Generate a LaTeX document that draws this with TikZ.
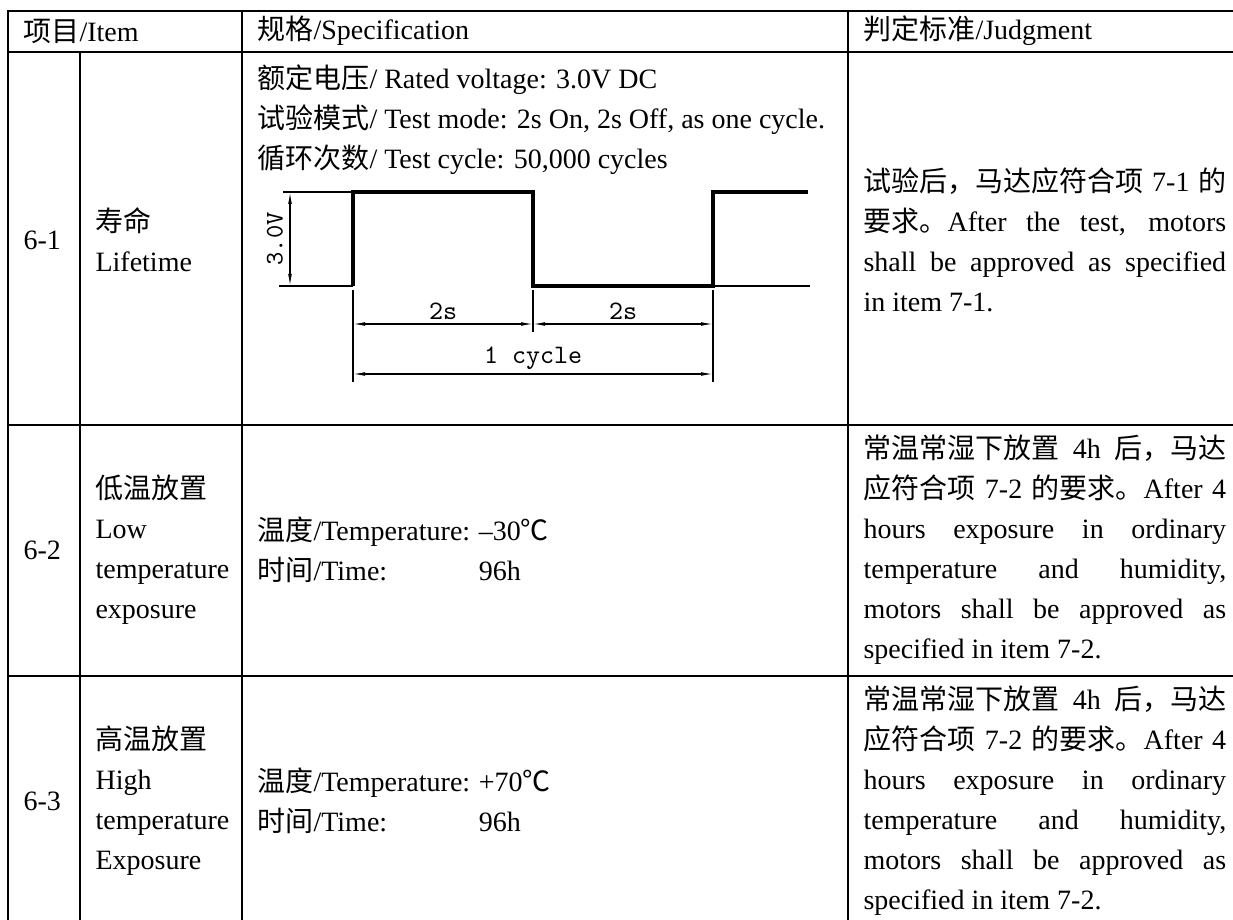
\documentclass[tikz,border=0pt]{standalone}
\usepackage{fontspec}
\setmainfont{Liberation Serif}
\newfontfamily\cjk{Noto Sans CJK SC}
\newcommand\zh[1]{{\cjk #1}}
\newcommand\jline[1]{\makebox[136pt][s]{#1}}
\newcommand\tlabel[1]{\makebox[83pt][l]{#1}}
\usetikzlibrary{arrows.meta}
\tikzset{
    rule/.style={line width=0.75pt,line cap=rect},
    txt/.style={anchor=west,inner sep=0pt,align=left,font=\fontsize{10.5}{15}\selectfont},
    wave/.style={line width=1.5pt},
    extline/.style={line width=0.4pt},
    dim/.style={line width=0.4pt,<->,>={Latex[length=4.5pt,width=1.4pt]}},
    cad/.style={inner sep=0pt,font=\ttfamily\fontsize{10}{10}\selectfont}
}
\begin{document}
\begin{tikzpicture}[x=0.375pt,y=-0.375pt]
    \useasboundingbox (0,0) rectangle (1233,920);
    \draw[rule] (8,11) -- (1240,11) (8,52) -- (1240,52) (8,425) -- (1240,425) (8,676) -- (1240,676);
    \draw[rule] (8,11) -- (8,930) (242,11) -- (242,930) (848,11) -- (848,930) (80,52) -- (80,930);
    \node[txt] (hitem) at (23,31) {\zh{项目}/Item};
    \node[txt] (hspec) at (257,31) {\zh{规格}/Specification};
    \node[txt] (hjudge) at (863,31) {\zh{判定标准}/Judgment};
    \node[txt] (no1) at (23,240) {6-1};
    \node[txt] (name1) at (95,240) {\zh{寿命}\\Lifetime};
    \node[txt,anchor=north west] (spec1) at (257,64) {\zh{额定电压}/ Rated voltage: 3.0V DC\\
        \zh{试验模式}/ Test mode: 2s On, 2s Off, as one cycle.\\
        \zh{循环次数}/ Test cycle: 50,000 cycles};
    \node[txt] (judge1) at (863,240) {\jline{\zh{试验后，马达应符合项} 7-1 \zh{的}}\\
        \jline{\zh{要求。}After the test, motors}\\
        \jline{shall be approved as specified}\\
        in item 7-1.};
    \coordinate (up1) at (353,192);
    \coordinate (dn1) at (533,192);
    \coordinate (up2) at (713,192);
    \draw[extline] (279,286) -- (353,286) (713,286) -- (810,286) (283,192) -- (up1);
    \draw[wave] (353,286) -- (up1) -- (dn1) -- (533,286) -- (713,286) -- (up2) -- (808,192);
    \draw[extline] (353,290) -- (353,382) (533,290) -- (533,332) (713,290) -- (713,382);
    \draw[dim] (290,192) -- (290,286);
    \draw[dim] (353,324) -- (533,324);
    \draw[dim] (533,324) -- (713,324);
    \draw[dim] (353,374) -- (713,374);
    \node[cad,rotate=90,font=\ttfamily\fontsize{9.5}{9.5}\selectfont] (volt) at (275,239) {3.0V};
    \node[cad,anchor=south] (ton) at (443,320) {2s};
    \node[cad,anchor=south] (toff) at (623,320) {2s};
    \node[cad,anchor=south] (period) at (533,370) {1 cycle};
    \node[txt] (no2) at (23,550) {6-2};
    \node[txt] (name2) at (95,550) {\zh{低温放置}\\Low\\temperature\\exposure};
    \node[txt] (spec2) at (257,550) {\tlabel{\zh{温度}/Temperature:}–30\zh{℃}\\
        \tlabel{\zh{时间}/Time:}96h};
    \node[txt] (judge2) at (863,550) {\jline{\zh{常温常湿下放置} 4h \zh{后，马达}}\\
        \jline{\zh{应符合项} 7-2 \zh{的要求。}After 4}\\
        \jline{hours exposure in ordinary}\\
        \jline{temperature and humidity,}\\
        \jline{motors shall be approved as}\\
        specified in item 7-2.};
    \node[txt] (no3) at (23,801) {6-3};
    \node[txt] (name3) at (95,801) {\zh{高温放置}\\High\\temperature\\Exposure};
    \node[txt] (spec3) at (257,801) {\tlabel{\zh{温度}/Temperature:}+70\zh{℃}\\
        \tlabel{\zh{时间}/Time:}96h};
    \node[txt] (judge3) at (863,801) {\jline{\zh{常温常湿下放置} 4h \zh{后，马达}}\\
        \jline{\zh{应符合项} 7-2 \zh{的要求。}After 4}\\
        \jline{hours exposure in ordinary}\\
        \jline{temperature and humidity,}\\
        \jline{motors shall be approved as}\\
        specified in item 7-2.};
\end{tikzpicture}
\end{document}
